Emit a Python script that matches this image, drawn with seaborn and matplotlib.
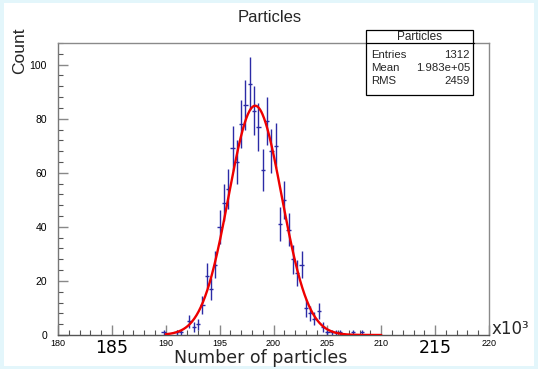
import numpy as np
import pandas as pd
import matplotlib
matplotlib.use("Agg")
import matplotlib.pyplot as plt
import seaborn as sns
from matplotlib.patches import Rectangle
from matplotlib.lines import Line2D
from matplotlib.ticker import MultipleLocator

# ---- data (x in units of 10^3) ----
bin_centers = [189.8, 191.0, 191.4, 192.2, 192.6, 193.0, 193.4, 193.8, 194.2, 194.6,
               195.0, 195.4, 195.8, 196.2, 196.6, 197.0, 197.4, 197.8, 198.2, 198.6,
               199.0, 199.4, 199.8, 200.2, 200.6, 201.0, 201.4, 201.8, 202.2, 202.6,
               203.0, 203.4, 203.8, 204.2, 204.6, 205.0, 205.4, 205.8, 206.2, 207.4,
               208.2]
counts = [1, 1, 1, 5, 3, 4, 11, 22, 17, 26,
          40, 49, 54, 69, 64, 78, 85, 93, 83, 77,
          61, 79, 68, 70, 41, 50, 39, 28, 23, 26,
          10, 8, 6, 9, 3, 1, 1, 1, 1, 1,
          1]
bin_width = 0.4

fit_amplitude = 84.8
fit_mean = 198.3
fit_sigma = 2.46
fit_range = [190.0, 210.0]

title = "Particles"
x_label = "Number of particles"
y_label = "Count"
x_ticks = [180, 185, 190, 195, 200, 205, 210, 215, 220]
big_x_ticks = [185, 215]
y_ticks = [0, 20, 40, 60, 80, 100]
stats_title = "Particles"
stats_names = ["Entries", "Mean", "RMS"]
stats_values = ["1312", "1.983e+05", "2459"]

# ---- style ----
sns.set_theme(style="white")
plt.rcParams["font.family"] = ["Liberation Sans", "DejaVu Sans"]

W, H = 538, 369
fig = plt.figure(figsize=(W / 100, H / 100), dpi=100)
fig.patch.set_facecolor("#e3f6fb")
fig.add_artist(Rectangle((4 / W, 3 / H), 1 - 8 / W, 1 - 6 / H, transform=fig.transFigure,
                         facecolor="white", edgecolor="none", zorder=-10))

ax = fig.add_axes([58 / W, (H - 335) / H, (489 - 58) / W, (335 - 43) / H])
ax.set_facecolor("white")

df = pd.DataFrame({"x": bin_centers, "count": counts})
df["err"] = np.sqrt(df["count"])

ax.errorbar(df["x"], df["count"], xerr=bin_width / 2, yerr=df["err"], fmt="none",
            ecolor="#2b2ba6", elinewidth=1.0, capsize=0, zorder=3)

xs = np.linspace(fit_range[0], fit_range[1], 400)
fit_df = pd.DataFrame({"x": xs,
                       "y": fit_amplitude * np.exp(-0.5 * ((xs - fit_mean) / fit_sigma) ** 2)})
sns.lineplot(data=fit_df, x="x", y="y", color="#ee0000", linewidth=1.7, ax=ax, zorder=4)

ax.set_xlim(180, 220)
ax.set_ylim(0, 108)
ax.set_xlabel("")
ax.set_ylabel("")

for s in ax.spines.values():
    s.set_color("#8a8a8a")
    s.set_linewidth(1.0)
ax.spines["bottom"].set_color("#555555")
ax.spines["left"].set_color("#777777")

ax.set_xticks(x_ticks)
ax.set_xticklabels([str(t) for t in x_ticks])
ax.xaxis.set_minor_locator(MultipleLocator(1))
ax.set_yticks(y_ticks)
ax.set_yticklabels([str(t) for t in y_ticks])
ax.yaxis.set_minor_locator(MultipleLocator(4))
ax.tick_params(axis="both", which="major", direction="in", length=7, width=1.0,
               color="#888888", bottom=True, left=True, top=False, right=False)
ax.tick_params(axis="both", which="minor", direction="in", length=3.5, width=0.8,
               color="#555555", bottom=True, left=True, top=False, right=False)
ax.tick_params(axis="x", which="major", labelsize=6.5, pad=3, labelcolor="black")
ax.tick_params(axis="y", which="major", labelsize=7.5, pad=8, labelcolor="black")
for lab, t in zip(ax.get_xticklabels(), x_ticks):
    if t in big_x_ticks:
        lab.set_fontsize(12.5)
        lab.set_fontfamily("DejaVu Sans")

# ---- texts ----
fig.text(270 / W, 1 - 18 / H, title, ha="center", va="center", fontsize=12)
fig.text(20 / W, 1 - 28 / H, y_label, rotation=90, ha="center", va="top", fontsize=12.5)
fig.text(261 / W, 1 - 358 / H, x_label, ha="center", va="center", fontsize=12.5,
         family="DejaVu Sans")
fig.text(492 / W, 1 - 329 / H, "x10³", ha="left", va="center", fontsize=12,
         family="DejaVu Sans")

# ---- stats box ----
bx0, bx1, by0, by1, bsep = 366.5, 473.5, 30, 95, 42.5
fig.add_artist(Rectangle((bx0 / W, 1 - by1 / H), (bx1 - bx0) / W, (by1 - by0) / H,
                         transform=fig.transFigure, facecolor="white",
                         edgecolor="black", linewidth=0.9, zorder=20))
fig.add_artist(Line2D([bx0 / W, bx1 / W], [1 - bsep / H, 1 - bsep / H],
                      transform=fig.transFigure, color="black", linewidth=0.9, zorder=21))
fig.text((bx0 + bx1) / 2 / W, 1 - 36.5 / H, stats_title, ha="center", va="center",
         fontsize=8.5, zorder=22)
for i, (n, v) in enumerate(zip(stats_names, stats_values)):
    yy = 1 - (54.5 + 13.3 * i) / H
    fig.text((bx0 + 5) / W, yy, n, ha="left", va="center", fontsize=8.2, zorder=22)
    fig.text((bx1 - 3.5) / W, yy, v, ha="right", va="center", fontsize=8.2, zorder=22)

fig.savefig("out.png", dpi=100, facecolor=fig.get_facecolor())
